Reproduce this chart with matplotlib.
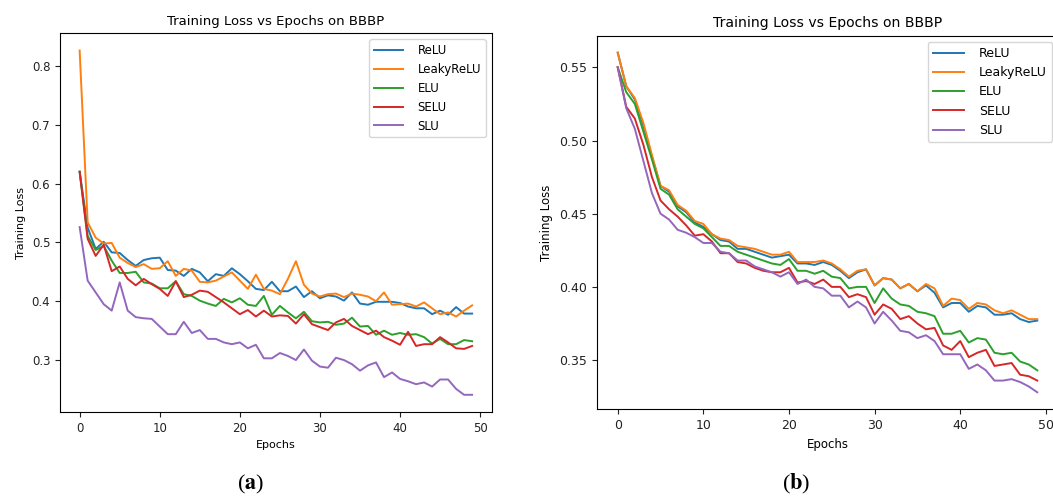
import matplotlib
matplotlib.use('Agg')
import matplotlib.pyplot as plt

epochs = list(range(50))
activations = ['ReLU', 'LeakyReLU', 'ELU', 'SELU', 'SLU']

# (a) training loss per activation
loss_a_relu = [0.620, 0.525, 0.489, 0.501, 0.483, 0.482, 0.470, 0.460, 0.470, 0.473,
               0.474, 0.453, 0.452, 0.443, 0.455, 0.449, 0.434, 0.446, 0.443, 0.456,
               0.446, 0.434, 0.421, 0.419, 0.433, 0.417, 0.417, 0.425, 0.407, 0.417,
               0.405, 0.410, 0.408, 0.401, 0.415, 0.396, 0.394, 0.399, 0.399, 0.399,
               0.397, 0.391, 0.388, 0.388, 0.378, 0.384, 0.377, 0.390, 0.379, 0.379]
loss_a_leaky = [0.826, 0.534, 0.508, 0.498, 0.499, 0.474, 0.465, 0.458, 0.463, 0.455,
                0.456, 0.468, 0.443, 0.455, 0.452, 0.433, 0.432, 0.435, 0.442, 0.449,
                0.435, 0.421, 0.445, 0.421, 0.418, 0.412, 0.438, 0.468, 0.428, 0.413,
                0.408, 0.412, 0.413, 0.407, 0.413, 0.411, 0.408, 0.400, 0.415, 0.394,
                0.395, 0.396, 0.391, 0.398, 0.388, 0.378, 0.381, 0.374, 0.384, 0.393]
loss_a_elu = [0.620, 0.511, 0.487, 0.494, 0.469, 0.448, 0.448, 0.450, 0.432, 0.430,
              0.422, 0.422, 0.434, 0.412, 0.409, 0.401, 0.396, 0.392, 0.404, 0.398,
              0.405, 0.394, 0.392, 0.409, 0.377, 0.392, 0.381, 0.371, 0.382, 0.366,
              0.364, 0.365, 0.360, 0.362, 0.372, 0.357, 0.358, 0.343, 0.350, 0.343,
              0.346, 0.343, 0.344, 0.339, 0.328, 0.336, 0.327, 0.327, 0.334, 0.332]
loss_a_selu = [0.620, 0.506, 0.477, 0.496, 0.451, 0.459, 0.438, 0.427, 0.438, 0.429,
               0.421, 0.409, 0.434, 0.407, 0.411, 0.418, 0.416, 0.407, 0.398, 0.388,
               0.378, 0.385, 0.374, 0.384, 0.374, 0.376, 0.375, 0.362, 0.378, 0.361,
               0.356, 0.351, 0.364, 0.370, 0.358, 0.351, 0.344, 0.350, 0.339, 0.333,
               0.326, 0.348, 0.324, 0.327, 0.327, 0.339, 0.330, 0.320, 0.319, 0.324]
loss_a_slu = [0.526, 0.435, 0.415, 0.395, 0.384, 0.432, 0.384, 0.373, 0.371, 0.370,
              0.357, 0.344, 0.344, 0.365, 0.346, 0.351, 0.336, 0.336, 0.330, 0.327,
              0.330, 0.320, 0.326, 0.303, 0.303, 0.312, 0.307, 0.300, 0.318, 0.299,
              0.289, 0.287, 0.304, 0.300, 0.293, 0.282, 0.291, 0.296, 0.271, 0.279,
              0.268, 0.264, 0.259, 0.262, 0.255, 0.267, 0.267, 0.251, 0.241, 0.241]

# (b) training loss per activation
loss_b_relu = [0.560, 0.537, 0.528, 0.510, 0.489, 0.469, 0.465, 0.455, 0.451, 0.444,
               0.441, 0.436, 0.432, 0.431, 0.426, 0.426, 0.424, 0.422, 0.420, 0.421,
               0.422, 0.416, 0.416, 0.415, 0.417, 0.415, 0.411, 0.406, 0.410, 0.412,
               0.401, 0.406, 0.405, 0.399, 0.402, 0.397, 0.401, 0.396, 0.386, 0.389,
               0.389, 0.383, 0.387, 0.386, 0.381, 0.381, 0.382, 0.378, 0.376, 0.377]
loss_b_leaky = [0.560, 0.537, 0.529, 0.512, 0.490, 0.469, 0.466, 0.456, 0.452, 0.445,
                0.443, 0.436, 0.433, 0.432, 0.428, 0.427, 0.426, 0.424, 0.422, 0.422,
                0.424, 0.417, 0.417, 0.417, 0.418, 0.416, 0.412, 0.407, 0.411, 0.412,
                0.401, 0.406, 0.405, 0.399, 0.402, 0.397, 0.402, 0.399, 0.387, 0.392,
                0.391, 0.385, 0.389, 0.388, 0.384, 0.382, 0.384, 0.381, 0.378, 0.378]
loss_b_elu = [0.550, 0.533, 0.525, 0.506, 0.487, 0.467, 0.463, 0.453, 0.448, 0.443,
              0.440, 0.434, 0.428, 0.428, 0.424, 0.422, 0.420, 0.418, 0.416, 0.415,
              0.419, 0.411, 0.411, 0.409, 0.411, 0.407, 0.406, 0.399, 0.400, 0.400,
              0.389, 0.399, 0.392, 0.388, 0.387, 0.383, 0.382, 0.380, 0.368, 0.368,
              0.370, 0.362, 0.365, 0.364, 0.355, 0.354, 0.355, 0.349, 0.347, 0.343]
loss_b_selu = [0.550, 0.523, 0.515, 0.497, 0.475, 0.459, 0.453, 0.448, 0.442, 0.435,
               0.436, 0.431, 0.423, 0.423, 0.417, 0.416, 0.413, 0.411, 0.410, 0.410,
               0.413, 0.403, 0.404, 0.402, 0.405, 0.400, 0.400, 0.393, 0.395, 0.393,
               0.381, 0.388, 0.385, 0.378, 0.380, 0.375, 0.371, 0.372, 0.360, 0.357,
               0.363, 0.352, 0.355, 0.357, 0.346, 0.347, 0.348, 0.340, 0.339, 0.336]
loss_b_slu = [0.550, 0.522, 0.508, 0.486, 0.464, 0.450, 0.446, 0.439, 0.437, 0.434,
              0.430, 0.430, 0.424, 0.423, 0.418, 0.418, 0.414, 0.412, 0.410, 0.407,
              0.410, 0.402, 0.405, 0.400, 0.399, 0.394, 0.394, 0.386, 0.390, 0.386,
              0.375, 0.383, 0.377, 0.370, 0.369, 0.365, 0.367, 0.363, 0.354, 0.354,
              0.354, 0.344, 0.347, 0.343, 0.336, 0.336, 0.337, 0.335, 0.332, 0.328]

colors = ['#1f77b4', '#ff7f0e', '#2ca02c', '#d62728', '#9467bd']


def draw_panel(ax, series, scale=1.0):
    for name, values, color in zip(activations, series, colors):
        ax.plot(epochs, values, color=color, linewidth=1.4, label=name)
    ax.set_title('Training Loss vs Epochs on BBBP', fontsize=9.5 * scale)
    ax.set_xlabel('Epochs', fontsize=8 * scale)
    ax.set_ylabel('Training Loss', fontsize=8 * scale)
    ax.set_xticks([0, 10, 20, 30, 40, 50])
    ax.tick_params(labelsize=8.5 * scale, colors='#222222')
    ax.legend(loc='upper right', fontsize=8.5 * scale, handlelength=2.5, handletextpad=1.2)


def main():
    fig = plt.figure(figsize=(10.53, 4.97), dpi=100)
    ax_a = fig.add_axes([0.0570, 0.171, 0.410, 0.762])
    ax_b = fig.add_axes([0.5667, 0.1765, 0.4383, 0.7517])

    draw_panel(ax_a, [loss_a_relu, loss_a_leaky, loss_a_elu, loss_a_selu, loss_a_slu])
    draw_panel(ax_b, [loss_b_relu, loss_b_leaky, loss_b_elu, loss_b_selu, loss_b_slu], scale=1.06)
    ax_b.set_yticks([0.35, 0.40, 0.45, 0.50, 0.55])

    plt.rcParams['mathtext.fontset'] = 'stix'
    fig.text(251 / 1053, 1 - 484 / 497, r'($\mathbf{a}$)', fontsize=16,
             family='Liberation Serif', ha='center', va='center')
    fig.text(796 / 1053, 1 - 484 / 497, r'($\mathbf{b}$)', fontsize=16,
             family='Liberation Serif', ha='center', va='center')

    fig.savefig('out.png', dpi=100)


if __name__ == "__main__":
    main()
